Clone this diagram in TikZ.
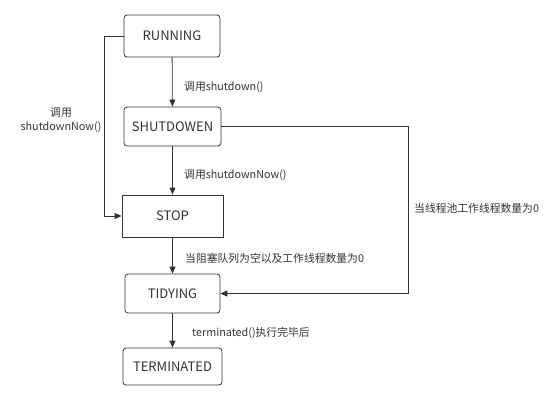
\documentclass[tikz,border=0pt]{standalone}
\usepackage{fontspec}
\setmainfont{Noto Sans CJK SC}
\usetikzlibrary{arrows.meta}
\definecolor{ink}{HTML}{333333}
\tikzset{
  state/.style={draw=ink, line width=0.8pt, rounded corners=3pt, inner sep=0pt, text=ink, font=\fontsize{13}{15}\selectfont},
  sqstate/.style={state, rounded corners=0pt},
  conn/.style={draw=ink, line width=0.8pt, -{Triangle[length=7pt,width=6pt]}},
  lbl/.style={text=ink, inner sep=0pt, font=\fontsize{10.8}{14}\selectfont}
}
\begin{document}
\begin{tikzpicture}[x=1pt,y=-1pt]
\useasboundingbox (0,0) rectangle (556,400);
\node[state, minimum width=96pt, minimum height=42pt] (run) at (172,36) {RUNNING};
\node[state, minimum width=97pt, minimum height=39pt] (shut) at (172.5,126.5) {SHUTDOWEN};
\node[sqstate, minimum width=101pt, minimum height=42pt] (stop) at (172.5,216) {STOP};
\node[state, minimum width=95pt, minimum height=39pt] (tidy) at (172.5,293.5) {TIDYING};
\node[state, minimum width=99pt, minimum height=37pt] (term) at (172.5,366.5) {TERMINATED};
\coordinate (lx) at (104,0);
\coordinate (rx) at (408,0);
\draw[conn] (run) -- (shut);
\draw[conn] (shut) -- (stop);
\draw[conn] (stop) -- (tidy);
\draw[conn] (tidy) -- (term);
\draw[conn] (run.west) -- (run.west -| lx) |- (stop.west);
\draw[conn] (shut.east) -- (shut.east -| rx) |- (tidy.east);
\node[lbl, anchor=west] (l1) at (184,87) {调用shutdown()};
\node[lbl, align=center] (l2) at (61,120.5) {调用\\shutdownNow()};
\node[lbl, anchor=west] (l3) at (184,175) {调用shutdownNow()};
\node[lbl, anchor=west] (l4) at (414,208) {当线程池工作线程数量为0};
\node[lbl, anchor=west] (l5) at (185,258) {当阻塞队列为空以及工作线程数量为0};
\node[lbl, anchor=west] (l6) at (192,333) {terminated()执行完毕后};
\end{tikzpicture}
\end{document}
